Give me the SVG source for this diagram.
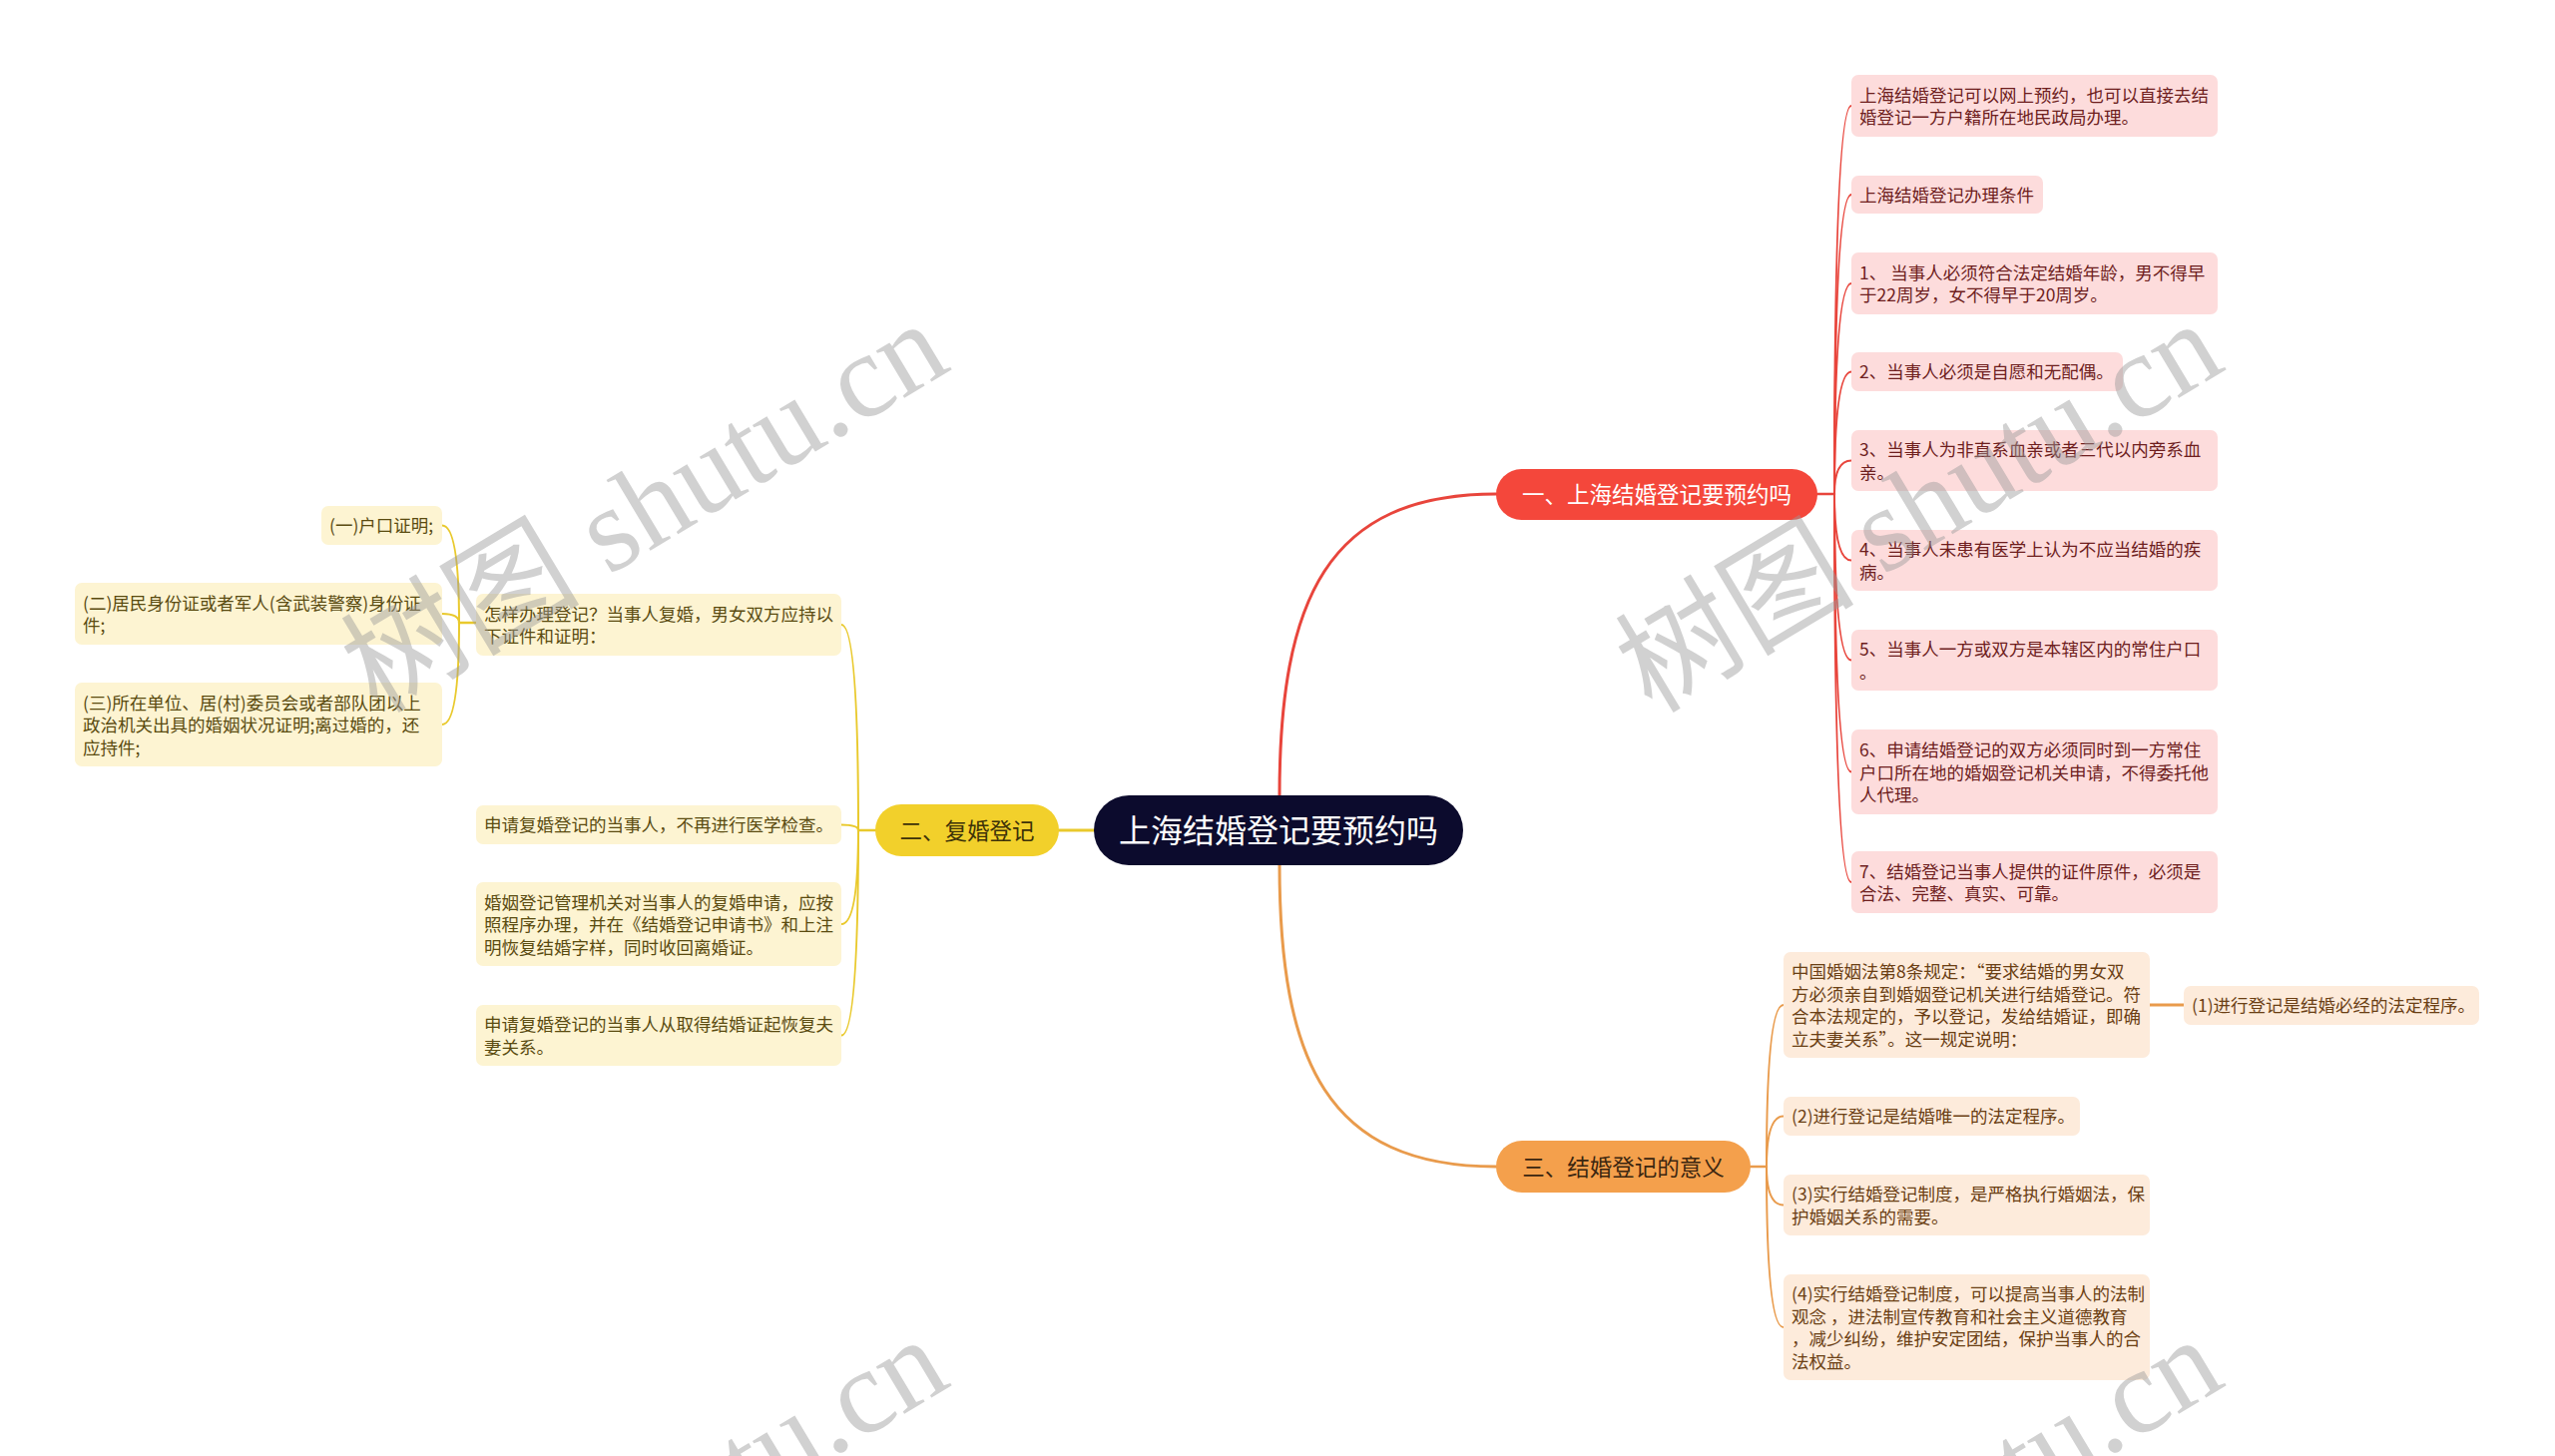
<svg xmlns="http://www.w3.org/2000/svg" width="2560" height="1459" viewBox="0 0 2560 1459">
<style>
text{font-family:"Noto Sans CJK SC","Microsoft YaHei",sans-serif}
.c{fill:none;stroke-linecap:round}
.r{stroke:#e8453c}
.y{stroke:#e9c92c}
.o{stroke:#e99b4c}
.pk{fill:#fddcdc}
.pe{fill:#fdebdb}
.ye{fill:#fdf4d2}
.tp{font-size:17.5px;fill:#6e1e1e}
.te{font-size:17.5px;fill:#6b3f14}
.ty{font-size:17.5px;fill:#5a4b10}
.wm{font-family:"Liberation Serif","Noto Sans CJK SC",serif;font-size:120px;fill:#9a9a9a;opacity:0.45}
</style>
<rect width="2560" height="1459" fill="#ffffff"/>
<g id="connectors">
<path class="c r" stroke-width="3" d="M1282,798 C1282,600 1330,495 1499,495"/>
<path class="c o" stroke-width="3" d="M1282,866 C1282,1064 1330,1169 1499,1169"/>
<path class="c y" stroke-width="3" d="M1096,832 L1061,832"/>
<path class="c r" stroke-width="2.5" d="M1821,495 L1838,495"/>
<path class="c r" stroke-width="2" d="M1838,495 Q1838,106 1855,106"/>
<path class="c r" stroke-width="2" d="M1838,495 Q1838,195 1855,195"/>
<path class="c r" stroke-width="2" d="M1838,495 Q1838,284 1855,284"/>
<path class="c r" stroke-width="2" d="M1838,495 Q1838,372.5 1855,372.5"/>
<path class="c r" stroke-width="2" d="M1838,495 Q1838,461.5 1855,461.5"/>
<path class="c r" stroke-width="2" d="M1838,495 Q1838,561.5 1855,561.5"/>
<path class="c r" stroke-width="2" d="M1838,495 Q1838,661.5 1855,661.5"/>
<path class="c r" stroke-width="2" d="M1838,495 Q1838,773.5 1855,773.5"/>
<path class="c r" stroke-width="2" d="M1838,495 Q1838,884 1855,884"/>
<path class="c y" stroke-width="2.5" d="M877,832 L860,832"/>
<path class="c y" stroke-width="2" d="M860,832 Q860,626 843,626"/>
<path class="c y" stroke-width="2" d="M860,832 Q860,826.5 843,826.5"/>
<path class="c y" stroke-width="2" d="M860,832 Q860,926 843,926"/>
<path class="c y" stroke-width="2" d="M860,832 Q860,1037.5 843,1037.5"/>
<path class="c y" stroke-width="2.5" d="M477,624 L460,624"/>
<path class="c y" stroke-width="2" d="M460,624 Q460,526.5 443,526.5"/>
<path class="c y" stroke-width="2" d="M460,624 Q460,615 443,615"/>
<path class="c y" stroke-width="2" d="M460,624 Q460,726 443,726"/>
<path class="c o" stroke-width="2.5" d="M1754,1169 L1770,1169"/>
<path class="c o" stroke-width="2" d="M1770,1169 Q1770,1007 1787,1007"/>
<path class="c o" stroke-width="2" d="M1770,1169 Q1770,1118.5 1787,1118.5"/>
<path class="c o" stroke-width="2" d="M1770,1169 Q1770,1207.5 1787,1207.5"/>
<path class="c o" stroke-width="2" d="M1770,1169 Q1770,1330 1787,1330"/>
<path class="c o" stroke-width="3" d="M2154,1007 L2188,1007"/>
</g>
<g id="root">
<rect x="1096" y="797" width="370" height="70" rx="35" fill="#0c0b2d"/>
<text x="1281" y="844" font-size="32" fill="#ffffff" text-anchor="middle">上海结婚登记要预约吗</text>
</g>
<g id="b1">
<rect x="1499" y="470" width="322" height="51" rx="25.5" fill="#f4473b"/>
<text x="1660" y="503.5" font-size="22.5" fill="#ffffff" text-anchor="middle">一、上海结婚登记要预约吗</text>
</g>
<g id="b2">
<rect x="877" y="806" width="184" height="52" rx="26" fill="#f2d02b"/>
<text x="969" y="840.5" font-size="22.5" fill="#3d3208" text-anchor="middle">二、复婚登记</text>
</g>
<g id="b3">
<rect x="1499" y="1143" width="255" height="52" rx="26" fill="#f4a04c"/>
<text x="1626.5" y="1177.5" font-size="22.5" fill="#3b2610" text-anchor="middle">三、结婚登记的意义</text>
</g>
<g id="n1_1"><rect class="pk" x="1855" y="75" width="367" height="62" rx="7"/>
<text class="tp"><tspan x="1863" y="101.5">上海结婚登记可以网上预约，也可以直接去结</tspan><tspan x="1863" y="124">婚登记一方户籍所在地民政局办理。</tspan></text></g>
<g id="n1_2"><rect class="pk" x="1855" y="176" width="192" height="38" rx="7"/>
<text class="tp"><tspan x="1863" y="201.5">上海结婚登记办理条件</tspan></text></g>
<g id="n1_3"><rect class="pk" x="1855" y="253" width="367" height="62" rx="7"/>
<text class="tp"><tspan x="1863" y="279.5">1、 当事人必须符合法定结婚年龄，男不得早</tspan><tspan x="1863" y="302">于22周岁，女不得早于20周岁。</tspan></text></g>
<g id="n1_4"><rect class="pk" x="1855" y="353" width="272" height="39" rx="7"/>
<text class="tp"><tspan x="1863" y="379">2、当事人必须是自愿和无配偶。</tspan></text></g>
<g id="n1_5"><rect class="pk" x="1855" y="431" width="367" height="61" rx="7"/>
<text class="tp"><tspan x="1863" y="457">3、当事人为非直系血亲或者三代以内旁系血</tspan><tspan x="1863" y="479.5">亲。</tspan></text></g>
<g id="n1_6"><rect class="pk" x="1855" y="531" width="367" height="61" rx="7"/>
<text class="tp"><tspan x="1863" y="557">4、当事人未患有医学上认为不应当结婚的疾</tspan><tspan x="1863" y="579.5">病。</tspan></text></g>
<g id="n1_7"><rect class="pk" x="1855" y="631" width="367" height="61" rx="7"/>
<text class="tp"><tspan x="1863" y="657">5、当事人一方或双方是本辖区内的常住户口</tspan><tspan x="1863" y="679.5">。</tspan></text></g>
<g id="n1_8"><rect class="pk" x="1855" y="731" width="367" height="85" rx="7"/>
<text class="tp"><tspan x="1863" y="758">6、申请结婚登记的双方必须同时到一方常住</tspan><tspan x="1863" y="780.5">户口所在地的婚姻登记机关申请，不得委托他</tspan><tspan x="1863" y="803">人代理。</tspan></text></g>
<g id="n1_9"><rect class="pk" x="1855" y="853" width="367" height="62" rx="7"/>
<text class="tp"><tspan x="1863" y="879.5">7、结婚登记当事人提供的证件原件，必须是</tspan><tspan x="1863" y="902">合法、完整、真实、可靠。</tspan></text></g>
<g id="n2_1"><rect class="ye" x="477" y="595" width="366" height="62" rx="7"/>
<text class="ty"><tspan x="485" y="621.5">怎样办理登记？当事人复婚，男女双方应持以</tspan><tspan x="485" y="644">下证件和证明：</tspan></text></g>
<g id="n2_1a"><rect class="ye" x="322" y="507" width="121" height="39" rx="7"/>
<text class="ty"><tspan x="330" y="533">(一)户口证明;</tspan></text></g>
<g id="n2_1b"><rect class="ye" x="75" y="584" width="368" height="62" rx="7"/>
<text class="ty"><tspan x="83" y="610.5">(二)居民身份证或者军人(含武装警察)身份证</tspan><tspan x="83" y="633">件;</tspan></text></g>
<g id="n2_1c"><rect class="ye" x="75" y="684" width="368" height="84" rx="7"/>
<text class="ty"><tspan x="83" y="710.5">(三)所在单位、居(村)委员会或者部队团以上</tspan><tspan x="83" y="733">政治机关出具的婚姻状况证明;离过婚的，还</tspan><tspan x="83" y="755.5">应持件;</tspan></text></g>
<g id="n2_2"><rect class="ye" x="477" y="807" width="366" height="39" rx="7"/>
<text class="ty"><tspan x="485" y="833">申请复婚登记的当事人，不再进行医学检查。</tspan></text></g>
<g id="n2_3"><rect class="ye" x="477" y="884" width="366" height="84" rx="7"/>
<text class="ty"><tspan x="485" y="910.5">婚姻登记管理机关对当事人的复婚申请，应按</tspan><tspan x="485" y="933">照程序办理，并在《结婚登记申请书》和上注</tspan><tspan x="485" y="955.5">明恢复结婚字样，同时收回离婚证。</tspan></text></g>
<g id="n2_4"><rect class="ye" x="477" y="1007" width="366" height="61" rx="7"/>
<text class="ty"><tspan x="485" y="1033">申请复婚登记的当事人从取得结婚证起恢复夫</tspan><tspan x="485" y="1055.5">妻关系。</tspan></text></g>
<g id="n3_1"><rect class="pe" x="1787" y="954" width="367" height="106" rx="7"/>
<text class="te"><tspan x="1795" y="980">中国婚姻法第8条规定：“要求结婚的男女双</tspan><tspan x="1795" y="1002.5">方必须亲自到婚姻登记机关进行结婚登记。符</tspan><tspan x="1795" y="1025">合本法规定的，予以登记，发给结婚证，即确</tspan><tspan x="1795" y="1047.5">立夫妻关系”。这一规定说明：</tspan></text></g>
<g id="n3_1a"><rect class="pe" x="2188" y="988" width="296" height="39" rx="7"/>
<text class="te"><tspan x="2196" y="1014">(1)进行登记是结婚必经的法定程序。</tspan></text></g>
<g id="n3_2"><rect class="pe" x="1787" y="1099" width="297" height="39" rx="7"/>
<text class="te"><tspan x="1795" y="1125">(2)进行登记是结婚唯一的法定程序。</tspan></text></g>
<g id="n3_3"><rect class="pe" x="1787" y="1177" width="367" height="61" rx="7"/>
<text class="te"><tspan x="1795" y="1203">(3)实行结婚登记制度，是严格执行婚姻法，保</tspan><tspan x="1795" y="1225.5">护婚姻关系的需要。</tspan></text></g>
<g id="n3_4"><rect class="pe" x="1787" y="1277" width="367" height="106" rx="7"/>
<text class="te"><tspan x="1795" y="1303">(4)实行结婚登记制度，可以提高当事人的法制</tspan><tspan x="1795" y="1325.5">观念 ，进法制宣传教育和社会主义道德教育</tspan><tspan x="1795" y="1348">，减少纠纷，维护安定团结，保护当事人的合</tspan><tspan x="1795" y="1370.5">法权益。</tspan></text></g>
<g id="watermarks">
<text class="wm" transform="translate(378,716) rotate(-31)">树图 shutu.cn</text>
<text class="wm" transform="translate(1655,716) rotate(-31)">树图 shutu.cn</text>
<text class="wm" transform="translate(378,1734) rotate(-31)">树图 shutu.cn</text>
<text class="wm" transform="translate(1655,1734) rotate(-31)">树图 shutu.cn</text>
</g>
</svg>
